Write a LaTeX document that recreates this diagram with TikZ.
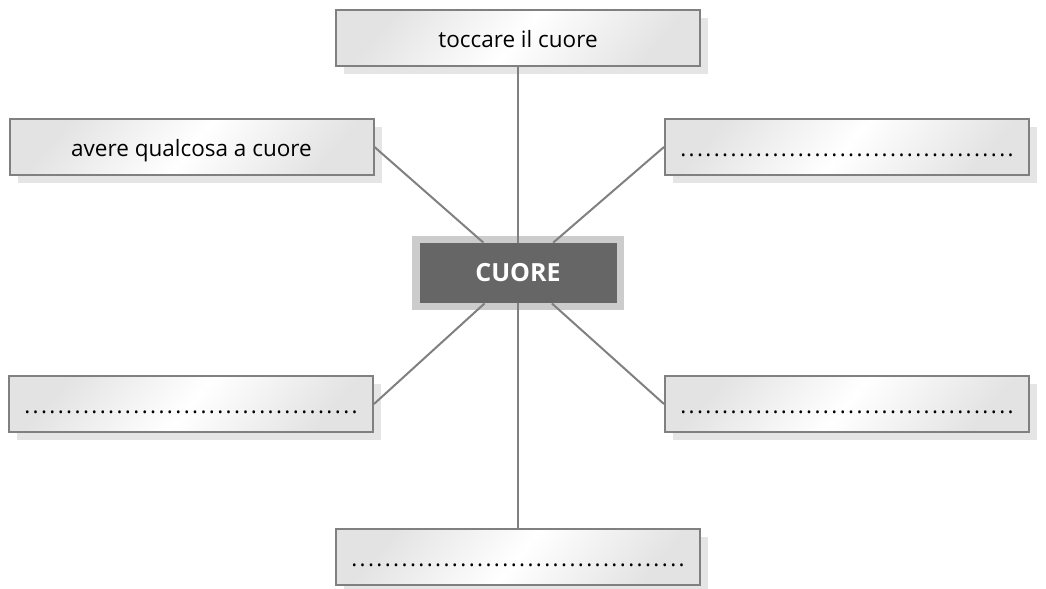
\documentclass[tikz,border=0pt]{standalone}
\usepackage{fontspec}
\setmainfont{Open Sans}
\usetikzlibrary{shadows}
\newcommand{\blankline}{\hbox to 168pt{\xleaders\hbox to 4.15pt{\hss.\hss}\hfill}}
\begin{document}
\begin{tikzpicture}[x=0.5pt,y=-0.5pt,
  field/.style={draw=gray,line width=1pt,left color=gray!22,right color=gray!22,middle color=white,shading angle=50,
    minimum width=182pt,minimum height=28pt,inner sep=0pt,text height=9pt,text depth=0pt,
    font=\fontsize{11.25}{13}\selectfont,
    drop shadow={shadow xshift=4pt,shadow yshift=-4pt,fill=gray!20,opacity=1}},
  hubframe/.style={fill=gray!40,minimum width=106pt,minimum height=37pt,inner sep=0pt},
  hub/.style={fill=black!60,text=white,font=\fontsize{12.5}{14}\selectfont\bfseries,
    minimum width=98.5pt,minimum height=30pt,inner sep=0pt},
  link/.style={draw=gray,line width=1pt}]
\useasboundingbox (0,0) rectangle (1046,589);

\node[field] (top) at (518,38) {toccare il cuore};
\node[field] (ul) at (191.5,147) {avere qualcosa a cuore};
\node[field] (ur) at (847,147) {\blankline};
\node[field] (ll) at (191,404) {\blankline};
\node[field] (lr) at (847,404) {\blankline};
\node[field] (bot) at (518,557) {\blankline};

\node[hubframe] (frame) at (518,273) {};
\node[hub] (hub) at (518,273) {CUORE};

\draw[link] (top) -- (hub);
\draw[link] (hub) -- (bot);
\draw[link] (ul.east) -- (hub);
\draw[link] (ur.west) -- (hub);
\draw[link] (ll.east) -- (hub);
\draw[link] (lr.west) -- (hub);
\end{tikzpicture}
\end{document}
